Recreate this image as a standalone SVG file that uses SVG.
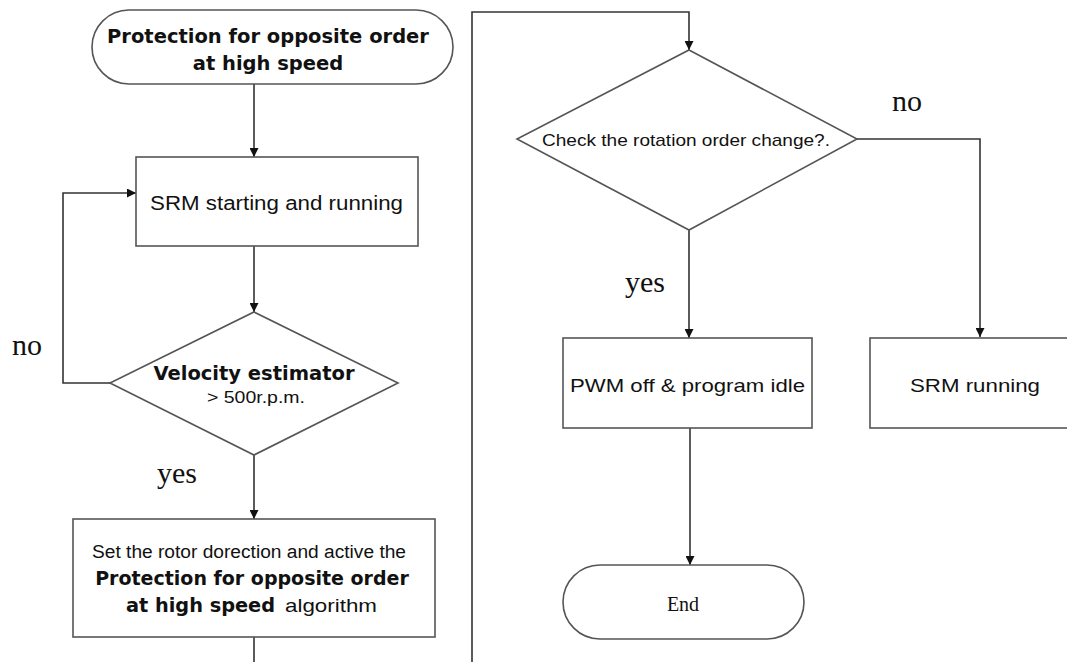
<svg xmlns="http://www.w3.org/2000/svg" width="1067" height="662" viewBox="0 0 1067 662">
  <defs>
    <marker id="arrow" viewBox="0 0 10 10" refX="10" refY="5" markerWidth="9" markerHeight="9" markerUnits="userSpaceOnUse" orient="auto">
      <path d="M0,0 L10,5 L0,10 Z" fill="#111"/>
    </marker>
    <style>
      .shape { fill: #fff; stroke: #555; stroke-width: 1.6; }
      .link { fill: none; stroke: #333; stroke-width: 1.6; }
      .bold { font-family: "DejaVu Sans", Verdana, sans-serif; font-weight: bold; fill: #111; }
      .sans { font-family: "Liberation Sans", Arial, sans-serif; fill: #111; }
      .serif { font-family: "Liberation Serif", "Times New Roman", serif; fill: #111; }
    </style>
  </defs>
  <rect width="1067" height="662" fill="#fff"/>

  <!-- connectors -->
  <g id="connectors">
    <path class="link" d="M254,84 V157" marker-end="url(#arrow)"/>
    <path class="link" d="M254,246 V312" marker-end="url(#arrow)"/>
    <path class="link" d="M110,383 H63 V193 H136" marker-end="url(#arrow)"/>
    <path class="link" d="M254,455 V519" marker-end="url(#arrow)"/>
    <path class="link" d="M254,637 V662"/>
    <path class="link" d="M472,662 V12 H689 V50" marker-end="url(#arrow)"/>
    <path class="link" d="M689,230 V338" marker-end="url(#arrow)"/>
    <path class="link" d="M857,139 H980 V337" marker-end="url(#arrow)"/>
    <path class="link" d="M690,428 V565" marker-end="url(#arrow)"/>
    <text class="serif" x="12" y="355" font-size="30">no</text>
    <text class="serif" x="157" y="483" font-size="30">yes</text>
    <text class="serif" x="892" y="111" font-size="30">no</text>
    <text class="serif" x="625" y="292" font-size="30">yes</text>
  </g>

  <!-- start terminator -->
  <g id="start">
    <rect class="shape" x="92" y="10" width="361" height="74" rx="37" ry="37"/>
    <text class="bold" x="268" y="43" font-size="19.5" text-anchor="middle">Protection for opposite order</text>
    <text class="bold" x="268" y="70" font-size="19.5" text-anchor="middle">at high speed</text>
  </g>

  <!-- SRM starting and running -->
  <g id="srm-start">
    <rect class="shape" x="136" y="157" width="282" height="89"/>
    <text class="sans" x="150" y="210" font-size="20" textLength="253" lengthAdjust="spacingAndGlyphs">SRM starting and running</text>
  </g>

  <!-- velocity decision -->
  <g id="velocity">
    <polygon class="shape" points="254,312 398,383 254,455 110,383"/>
    <text class="bold" x="254" y="380" font-size="19.5" text-anchor="middle">Velocity estimator</text>
    <text class="sans" x="207" y="403" font-size="17" textLength="98" lengthAdjust="spacingAndGlyphs">&gt; 500r.p.m.</text>
  </g>

  <!-- protection algorithm -->
  <g id="protect">
    <rect class="shape" x="73" y="519" width="362" height="118"/>
    <text class="sans" x="92" y="558" font-size="18" textLength="314" lengthAdjust="spacingAndGlyphs">Set the rotor dorection and active the</text>
    <text class="bold" x="252" y="585" font-size="19" text-anchor="middle">Protection for opposite order</text>
    <text class="bold" x="126" y="612" font-size="19" textLength="149" lengthAdjust="spacingAndGlyphs">at high speed</text>
    <text class="sans" x="285" y="612" font-size="19" textLength="92" lengthAdjust="spacingAndGlyphs">algorithm</text>
  </g>

  <!-- rotation order decision -->
  <g id="check">
    <polygon class="shape" points="689,50 857,139 689,230 517,139"/>
    <text class="sans" x="542" y="146" font-size="17" textLength="288" lengthAdjust="spacingAndGlyphs">Check the rotation order change?.</text>
  </g>

  <!-- PWM off -->
  <g id="pwm-off">
    <rect class="shape" x="563" y="338" width="249" height="90"/>
    <text class="sans" x="570" y="392" font-size="19" textLength="235" lengthAdjust="spacingAndGlyphs">PWM off &amp; program idle</text>
  </g>

  <!-- SRM running -->
  <g id="srm-run">
    <rect class="shape" x="870" y="338" width="220" height="90"/>
    <text class="sans" x="910" y="392" font-size="19" textLength="130" lengthAdjust="spacingAndGlyphs">SRM running</text>
  </g>

  <!-- end terminator -->
  <g id="end">
    <rect class="shape" x="563" y="565" width="241" height="74" rx="37" ry="37"/>
    <text class="serif" x="683" y="611" font-size="20" text-anchor="middle">End</text>
  </g>
</svg>
